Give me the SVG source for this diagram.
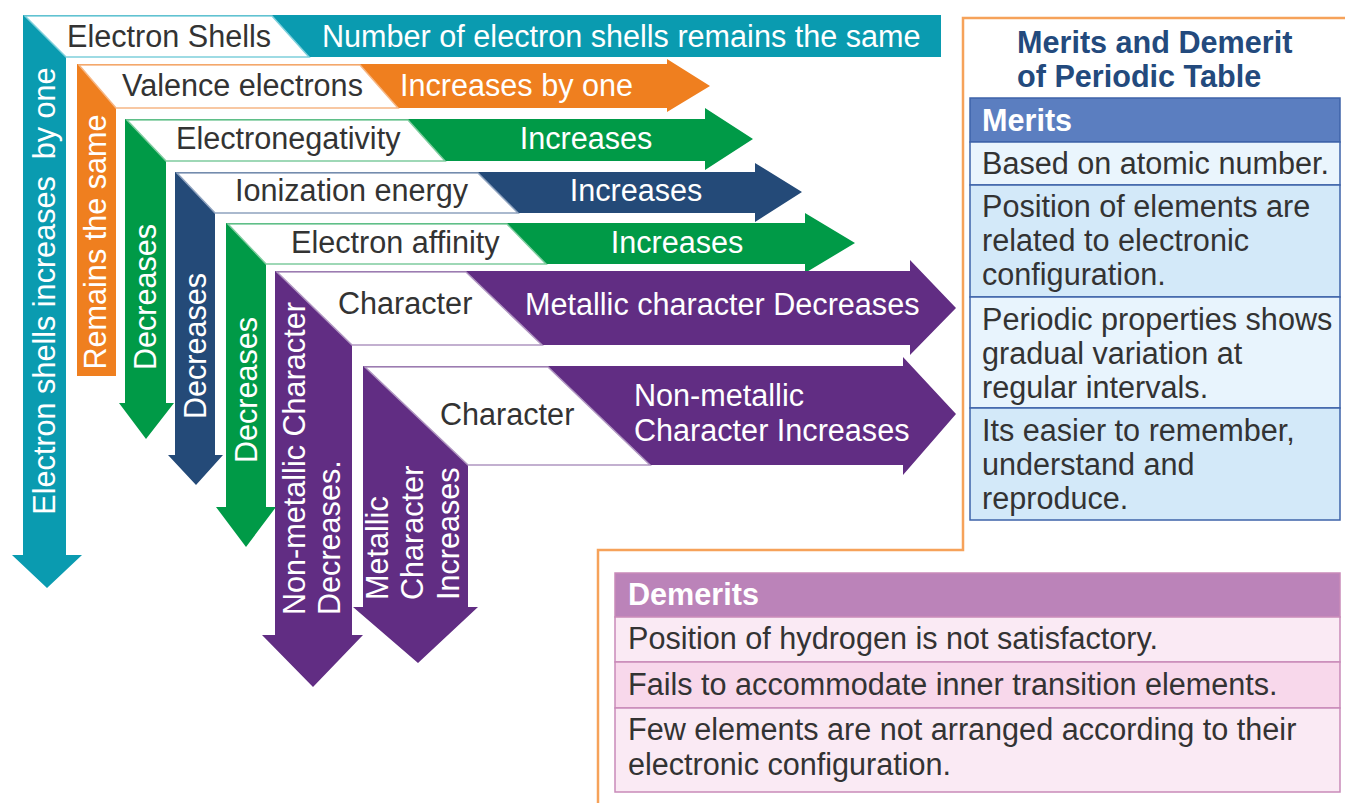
<svg xmlns="http://www.w3.org/2000/svg" width="1345" height="803" viewBox="0 0 1345 803">
<style>
text{font-family:"Liberation Sans",Arial,Helvetica,sans-serif;font-size:30.6px}
.lbl{fill:#333333}
.wt{fill:#ffffff}
.lab{fill:#ffffff;stroke-width:1.5}
.teal{fill:#0a9bb0}.orange{fill:#ef7f1f}.green{fill:#009a47}.navy{fill:#244a78}.purple{fill:#612d83}
.title{font-weight:bold;fill:#234a7d}
.hd{font-weight:bold;fill:#ffffff}
.cell{fill:#333333}
.mb{stroke:#3e63a9;stroke-width:1.5}
.db{stroke:#c98ab9;stroke-width:1.5}
</style>
<g id="L-shells">
<polygon class="teal" points="23,15 941,15 941,57 66,57 66,555 82,555 47,588 12,555 23,555"/>
<polygon class="lab" stroke="#7fd0dc" points="25,16 272,16 309,57 66,57"/>
<text class="lbl" x="67" y="47">Electron Shells</text>
<text class="wt" x="322" y="47">Number of electron shells remains the same</text>
<text class="wt" text-anchor="middle" xml:space="preserve" transform="translate(55,291) rotate(-90)">Electron shells increases  by one</text>
</g>
<g id="L-valence">
<polygon class="orange" points="77,64 667,64 667,59 710,86 667,112 667,108 116,108 116,376 77,376"/>
<polygon class="lab" stroke="#f6b785" points="79,65 360,65 398,108 116,108"/>
<text class="lbl" x="122" y="96">Valence electrons</text>
<text class="wt" x="400" y="96">Increases by one</text>
<text class="wt" text-anchor="middle" transform="translate(106,242) rotate(-90)">Remains the same</text>
</g>
<g id="L-electronegativity">
<polygon class="green" points="125,119 705,119 705,108 753,139 705,170 705,161 166,161 166,403 174,403 146,439 119,403 125,403"/>
<polygon class="lab" stroke="#7fcc9f" points="127,120 408,120 445,161 166,161"/>
<text class="lbl" x="176" y="149">Electronegativity</text>
<text class="wt" x="586" y="149" text-anchor="middle">Increases</text>
<text class="wt" text-anchor="middle" transform="translate(156,297) rotate(-90)">Decreases</text>
</g>
<g id="L-ionization">
<polygon class="navy" points="175,172 755,172 755,163 802,192 755,222 755,213 215,213 215,455 223,455 196,485 168,455 175,455"/>
<polygon class="lab" stroke="#8fa3bf" points="177,173 478,173 518,213 215,213"/>
<text class="lbl" x="235" y="201">Ionization energy</text>
<text class="wt" x="636" y="201" text-anchor="middle">Increases</text>
<text class="wt" text-anchor="middle" transform="translate(206,346) rotate(-90)">Decreases</text>
</g>
<g id="L-affinity">
<polygon class="green" points="226,223 805,223 805,213 855,243 805,273 805,264 266,264 266,507 276,507 246,547 216,507 226,507"/>
<polygon class="lab" stroke="#7fcc9f" points="228,224 507,224 546,264 266,264"/>
<text class="lbl" x="291" y="253">Electron affinity</text>
<text class="wt" x="677" y="253" text-anchor="middle">Increases</text>
<text class="wt" text-anchor="middle" transform="translate(257,390) rotate(-90)">Decreases</text>
</g>
<g id="L-metallic">
<polygon class="purple" points="275,271 910,271 910,260 956,308 910,355 910,345 352,345 352,635 363,635 313,687 262,635 275,635"/>
<polygon class="lab" stroke="#b096c1" points="277,272 466,272 542,345 352,345"/>
<text class="lbl" x="338" y="314">Character</text>
<text class="wt" x="525" y="315">Metallic character Decreases</text>
<text class="wt" transform="translate(305,615) rotate(-90)">Non-metallic Character</text>
<text class="wt" transform="translate(340,615) rotate(-90)">Decreases.</text>
</g>
<g id="L-nonmetallic">
<polygon class="purple" points="363,366 903,366 903,357 956,414 903,475 903,465 468,465 468,607 478,607 418,663 353,607 363,607"/>
<polygon class="lab" stroke="#b096c1" points="365,367 548,367 650,465 468,465"/>
<text class="lbl" x="440" y="425">Character</text>
<text class="wt" x="634" y="406">Non-metallic</text>
<text class="wt" x="634" y="441">Character Increases</text>
<text class="wt" transform="translate(388,600) rotate(-90)">Metallic</text>
<text class="wt" transform="translate(423,600) rotate(-90)">Character</text>
<text class="wt" transform="translate(459,600) rotate(-90)">Increases</text>
</g>
<g id="frame">
<path d="M1345,18 H963 V550 H598 V803" fill="none" stroke="#f6a25a" stroke-width="2.5"/>
</g>
<g id="title">
<text class="title" x="1017" y="53">Merits and Demerit</text>
<text class="title" x="1017" y="87">of Periodic Table</text>
</g>
<g id="merits">
<rect class="mb" x="970" y="98" width="370" height="44" fill="#5b7ec0"/>
<rect class="mb" x="970" y="142" width="370" height="43" fill="#eaf5fd"/>
<rect class="mb" x="970" y="185" width="370" height="112" fill="#d3e9f9"/>
<rect class="mb" x="970" y="297" width="370" height="111" fill="#e8f4fd"/>
<rect class="mb" x="970" y="408" width="370" height="112" fill="#d3e9f9"/>
<text class="hd" x="982" y="131">Merits</text>
<text class="cell" x="982" y="174">Based on atomic number.</text>
<text class="cell" x="982" y="217">Position of elements are</text>
<text class="cell" x="982" y="251">related to electronic</text>
<text class="cell" x="982" y="285">configuration.</text>
<text class="cell" x="982" y="330">Periodic properties shows</text>
<text class="cell" x="982" y="364">gradual variation at</text>
<text class="cell" x="982" y="398">regular intervals.</text>
<text class="cell" x="982" y="441">Its easier to remember,</text>
<text class="cell" x="982" y="475">understand and</text>
<text class="cell" x="982" y="509">reproduce.</text>
</g>
<g id="demerits">
<rect class="db" x="615" y="573" width="725" height="44" fill="#bb83b9"/>
<rect class="db" x="615" y="617" width="725" height="45" fill="#faeaf4"/>
<rect class="db" x="615" y="662" width="725" height="46" fill="#f8d8eb"/>
<rect class="db" x="615" y="708" width="725" height="84" fill="#faeaf4"/>
<text class="hd" x="628" y="605">Demerits</text>
<text class="cell" x="628" y="649">Position of hydrogen is not satisfactory.</text>
<text class="cell" x="628" y="695">Fails to accommodate inner transition elements.</text>
<text class="cell" x="628" y="740">Few elements are not arranged according to their</text>
<text class="cell" x="628" y="775">electronic configuration.</text>
</g>
</svg>
